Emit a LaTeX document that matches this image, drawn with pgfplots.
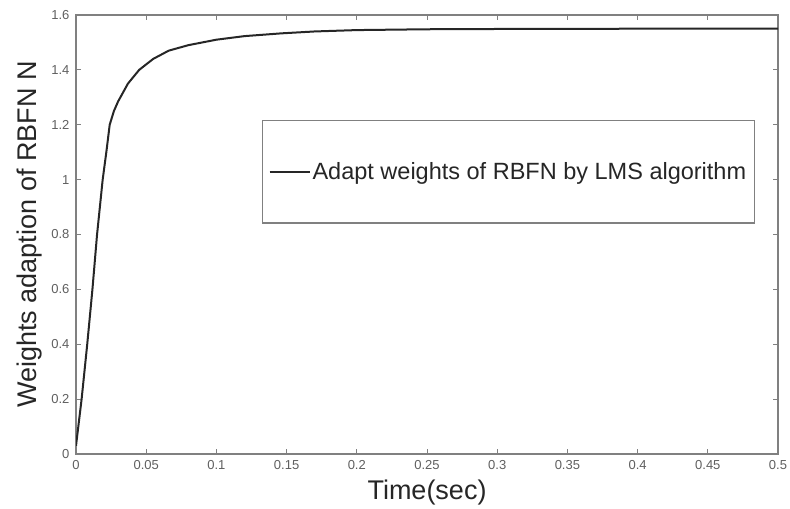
\documentclass[border=0pt]{standalone}
\usepackage{pgfplots}
\pgfplotsset{compat=1.18}
\usepackage{fontspec}
\setmainfont{Liberation Sans}
\definecolor{axgray}{RGB}{128,128,128}
\definecolor{tickgray}{RGB}{95,95,95}

\begin{document}
\begin{tikzpicture}
\begin{axis}[
  scale only axis,
  width=702pt, height=439pt,
  xmin=0, xmax=0.5,
  ymin=0, ymax=1.6,
  axis line style={axgray, line width=1.3pt},
  xtick={0,0.05,...,0.5},
  xticklabels={0,0.05,0.1,0.15,0.2,0.25,0.3,0.35,0.4,0.45,0.5},
  ytick={0,0.2,...,1.6},
  yticklabels={0,0.2,0.4,0.6,0.8,1,1.2,1.4,1.6},
  tick align=inside,
  major tick length=5pt,
  tick style={axgray, line width=1pt},
  tick label style={font=\fontsize{13}{15}\selectfont, text=tickgray},
  xticklabel style={yshift=-3pt},
  yticklabel style={xshift=-3pt},
  xlabel={Time(sec)},
  ylabel={Weights adaption of RBFN N},
  label style={font=\fontsize{27}{31}\selectfont, text=black!85},
  xlabel style={yshift=-3pt},
  ylabel style={yshift=2pt},
  legend style={
    at={(0.967,0.761)}, anchor=north east,
    draw=axgray, line width=1.3pt,
    inner xsep=6pt, inner ysep=40pt,
    font=\fontsize{23.5}{27}\selectfont,
    text=black!85,
    legend cell align=left,
  },
  legend image code/.code={\draw[#1, line width=2pt] (0pt,0pt) -- (40pt,0pt);},
]
\addplot[black!85, line width=2pt] coordinates {
  (0,0.03) (0.004,0.2) (0.008,0.4) (0.0117,0.6) (0.015,0.8) (0.019,1.0)
  (0.0216,1.1) (0.024,1.2) (0.027,1.25) (0.030,1.285) (0.037,1.35) (0.045,1.40)
  (0.055,1.44) (0.066,1.47) (0.080,1.49) (0.100,1.51) (0.120,1.523)
  (0.146,1.533) (0.170,1.540) (0.200,1.545) (0.250,1.548) (0.300,1.549)
  (0.400,1.550) (0.500,1.550)
};
\addlegendentry{Adapt weights of RBFN by LMS algorithm}
\end{axis}
\pgfresetboundingbox
\path[use as bounding box] ([xshift=-76pt,yshift=-54pt]current axis.south west) rectangle ([xshift=12pt,yshift=15pt]current axis.north east);
\end{tikzpicture}
\end{document}
